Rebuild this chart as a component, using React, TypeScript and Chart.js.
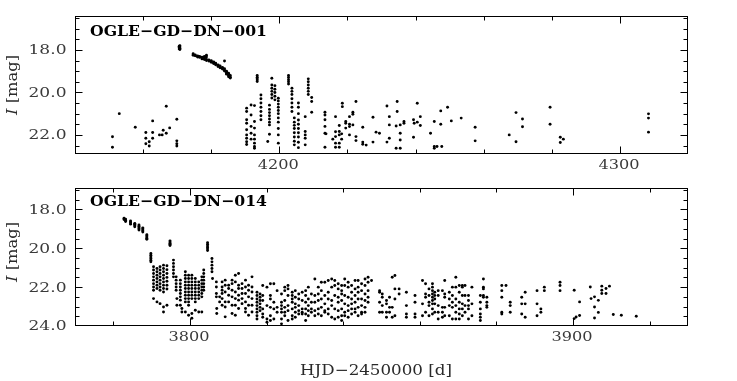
import { useEffect, useRef } from "react";
import { Chart, registerables } from "chart.js";

Chart.register(...registerables);

type Night = [number, number[]];

// ---------- DATA ----------
const panel1Name = "OGLE−GD−DN−001";
const panel2Name = "OGLE−GD−DN−014";
const yTitleItalic = "I";
const yTitleRest = " [mag]";
const xTitle = "HJD−2450000 [d]";

const p1XRange = [4140, 4320];
const p1YRange = [16.4, 22.9];
const p2XRange = [3770, 3930];
const p2YRange = [16.9, 24.0];

const p1XTicks = [4200, 4300];
const p1YTicks = [18.0, 20.0, 22.0];
const p2XTicks = [3800, 3900];
const p2YTicks = [18.0, 20.0, 22.0, 24.0];

const xMinorStep = 20;
const xMajorStep = 100;
const yMinorStep = 0.5;
const yMajorStep = 2;

// OGLE-GD-DN-001
const dn001Before: Night[] = [
  [4151.0, [22.09, 22.58]],
  [4153.0, [21.0]],
  [4157.7, [21.64]],
  [4160.8, [21.89, 22.16, 22.42]],
  [4161.8, [22.32, 22.52]],
  [4162.8, [21.34, 21.89, 22.16]],
  [4164.8, [22.0]],
  [4165.6, [22.0]],
  [4165.9, [21.78]],
  [4166.8, [21.92, 20.65]],
  [4167.8, [21.67]],
  [4169.9, [21.26, 22.28, 22.42, 22.52]],
];

const dn001Outburst: Night[] = [
  [4170.6, [17.82, 17.88, 17.95]],
  [4170.8, [17.8, 17.86, 17.92, 17.98]],
  [4174.7, [18.18, 18.22, 18.25]],
  [4175.3, [18.24, 18.27]],
  [4176.0, [18.3, 18.33, 18.28]],
  [4176.6, [18.35, 18.31]],
  [4177.3, [18.38, 18.42, 18.34]],
  [4178.0, [18.4, 18.36, 18.45, 18.3]],
  [4178.6, [18.33, 18.45, 18.5, 18.25]],
  [4179.3, [18.47, 18.52]],
  [4180.0, [18.5, 18.55, 18.58]],
  [4180.7, [18.6, 18.56, 18.64]],
  [4181.3, [18.66, 18.62, 18.7]],
  [4182.0, [18.7, 18.74, 18.78]],
  [4182.6, [18.75, 18.8, 18.84]],
  [4183.3, [18.82, 18.86, 18.9]],
  [4183.9, [18.88, 18.95, 18.99, 18.52]],
  [4184.5, [19.0, 19.05, 19.1, 19.14]],
  [4185.1, [19.1, 19.16, 19.2, 19.26]],
  [4185.6, [19.2, 19.28, 19.32]],
];

const dn001Active: Night[] = [
  [4190.4, [20.74, 20.9, 21.29, 21.45, 21.76, 22.0, 22.16, 22.32, 22.45]],
  [4191.7, [20.59, 21.06, 21.6, 21.92, 22.2]],
  [4192.7, [20.62, 21.37, 21.68, 22.0, 22.2, 22.39, 22.55, 22.63]],
  [4193.5, [19.2, 19.28, 19.35, 19.42, 19.49]],
  [4194.6, [20.12, 20.3, 20.5, 20.7, 20.9, 21.1, 21.29]],
  [4196.6, [22.31]],
  [4197.1, [20.6, 20.8, 20.95, 21.1, 21.25, 21.4, 21.53, 21.97]],
  [4197.8, [19.33, 19.65, 19.8, 19.95, 20.1, 20.26]],
  [4198.7, [19.68, 19.85, 20.0, 20.18, 20.35]],
  [4199.7, [20.27, 20.4, 20.55, 20.7, 20.85, 21.0, 21.2, 21.4, 21.7, 22.0, 22.39]],
  [4202.7, [19.2, 19.3, 19.4, 19.5, 19.6]],
  [4203.7, [19.8, 19.95, 20.1, 20.3, 20.5, 20.7, 20.9]],
  [4204.4, [21.2, 21.4, 21.55, 21.7, 21.9, 22.1, 22.3, 22.47]],
  [4205.6, [20.5, 20.7, 21.0, 21.3, 21.5, 21.7, 21.9, 22.1, 22.35, 22.6]],
  [4207.6, [21.14, 21.84, 22.0, 22.16, 22.47]],
  [4208.5, [19.36, 19.5, 19.65, 19.8, 19.95, 20.1]],
  [4209.5, [20.24, 20.43, 20.93]],
];

const dn001Tail: Night[] = [
  [4213.4, [20.93, 21.06, 21.29, 21.6, 21.92, 22.58]],
  [4213.7, [21.95]],
  [4215.7, [22.2]],
  [4216.5, [21.14, 21.85, 22.08, 22.39, 22.58]],
  [4217.6, [21.56, 21.84, 22.0, 22.39, 22.58]],
  [4218.3, [21.95, 22.2]],
  [4218.5, [20.51, 20.67]],
  [4219.5, [21.37, 21.45, 21.68]],
  [4220.6, [21.14, 21.5, 21.61, 22.0]],
  [4221.6, [20.93, 21.03, 21.53]],
  [4222.5, [20.43, 22.08, 22.27]],
  [4224.5, [21.64, 22.34, 22.44]],
  [4225.5, [22.48]],
  [4227.5, [21.17, 22.34]],
  [4228.4, [21.87]],
  [4229.4, [21.92]],
  [4231.6, [20.64, 22.34]],
  [4232.3, [21.14, 21.53, 22.16]],
  [4234.3, [21.58, 22.63]],
  [4234.6, [20.43, 20.9]],
  [4235.5, [21.53, 21.92, 22.24, 22.63]],
  [4236.6, [21.37, 21.45]],
  [4239.4, [21.29, 22.11]],
  [4239.6, [21.45]],
  [4240.5, [20.51, 21.4]],
  [4241.4, [21.14, 21.56]],
  [4244.4, [21.92]],
  [4245.5, [21.37, 22.55, 22.63]],
  [4246.3, [22.55]],
  [4247.4, [20.87, 21.5]],
  [4247.7, [22.55]],
  [4249.4, [20.7]],
  [4250.5, [21.34]],
  [4253.4, [21.21]],
  [4257.5, [21.64, 22.28]],
  [4267.5, [22.0]],
  [4269.5, [20.95, 22.32]],
  [4271.4, [21.25, 21.62]],
  [4279.5, [20.7, 21.5]],
  [4282.5, [22.11, 22.36]],
  [4283.4, [22.2]],
  [4308.4, [21.01, 21.21, 21.87]],
];

// OGLE-GD-DN-014
const dn014Outburst: Night[] = [
  [3782.8, [18.46, 18.52]],
  [3783.2, [18.5, 18.56, 18.62]],
  [3784.5, [18.6, 18.65, 18.7, 18.76]],
  [3785.6, [18.72, 18.77, 18.83, 18.9]],
  [3786.7, [18.8, 18.87, 18.94, 19.0, 19.06]],
  [3787.7, [18.95, 19.0, 19.06, 19.11, 19.16]],
  [3788.75, [19.3, 19.36, 19.42, 19.48, 19.54]],
  [3789.8, [20.27, 20.36, 20.45, 20.53, 20.62, 20.7]],
  [3794.8, [19.62, 19.68, 19.74, 19.8, 19.86]],
  [3804.6, [19.72, 19.8, 19.88, 19.96, 20.04, 20.12]],
  [3805.75, [20.53, 20.7, 20.87, 21.04, 21.21]],
];

const dn014Dip: Night[] = [
  [3790.5, [20.95, 21.12, 21.3, 21.47, 21.64, 21.82, 21.99, 22.16, 22.59]],
  [3791.4, [21.04, 21.21, 21.39, 21.56, 21.73, 21.9, 22.07, 22.76]],
  [3792.2, [20.95, 21.12, 21.3, 21.47, 21.64, 21.82, 21.99, 22.16, 22.85]],
  [3793.1, [20.87, 21.04, 21.21, 21.39, 21.56, 21.73, 21.9, 22.07, 22.25, 23.02, 23.28]],
  [3794.0, [20.9, 21.1, 21.3, 21.5, 21.7, 21.9, 22.1, 22.93]],
  [3795.7, [20.61, 20.78, 20.95, 21.12, 21.3, 21.47]],
  [3796.4, [21.47, 21.64, 21.82, 21.99, 22.16]],
  [3796.6, [22.59, 22.93]],
  [3797.5, [21.64, 21.82, 21.99, 22.16, 22.33, 22.5, 22.67, 22.93]],
  [3797.9, [23.1, 23.28]],
  [3798.8, [21.21, 21.39, 21.56, 21.73, 21.9, 22.07, 22.25, 22.42, 22.59, 22.76, 23.28]],
  [3799.65, [21.39, 21.56, 21.73, 21.9, 22.07, 22.25, 22.42, 22.59, 22.76, 22.93, 23.45]],
  [3800.5, [21.39, 21.56, 21.73, 21.9, 22.07, 22.25, 22.42, 22.59, 23.36, 23.6]],
  [3801.4, [21.56, 21.73, 21.9, 22.07, 22.25, 22.42, 22.59, 22.76, 23.19]],
  [3802.3, [21.73, 21.9, 22.07, 22.25, 22.42, 22.59, 23.28]],
  [3803.1, [21.47, 21.64, 21.82, 21.99, 22.16, 22.33, 22.5, 23.28]],
  [3803.6, [21.12, 21.3, 21.47, 21.64, 21.82, 21.99, 22.16]],
];

const dn014Cloud: Night[] = [
  [3805.9, [21.56]],
  [3806.9, [21.73, 21.99, 22.33, 22.5]],
  [3807.0, [23.1, 23.36]],
  [3807.75, [22.5, 22.76]],
  [3808.4, [21.73, 21.99, 22.16, 22.33, 22.59, 22.93]],
  [3809.2, [21.64, 21.9, 22.25, 22.76, 23.02, 23.53]],
  [3810.1, [21.9, 22.07, 22.42, 22.76]],
  [3811.0, [21.64, 21.82, 22.16, 22.5, 22.93, 23.36]],
  [3811.85, [21.39, 21.73, 22.25, 22.59, 22.93, 23.45]],
  [3812.7, [21.3, 21.9, 22.07, 22.42, 22.67, 23.1]],
  [3813.6, [21.82, 22.07, 22.33, 22.59, 22.85]],
  [3814.5, [21.64, 21.99, 22.33, 22.76, 23.1, 23.28]],
  [3815.3, [21.9, 22.16, 22.5, 22.93, 23.45]],
  [3816.2, [21.47, 21.99, 22.25, 22.59, 22.93, 23.28]],
  [3817.5, [22.26, 22.43, 22.61, 22.78, 22.95, 23.12, 23.29, 23.47, 23.64]],
  [3818.3, [22.35, 22.52, 22.69, 22.86, 23.04, 23.21]],
  [3819.0, [21.92, 22.43, 22.69, 23.12, 23.38, 23.55]],
  [3820.1, [22.0, 22.95, 23.64, 23.81]],
  [3821.0, [21.83, 22.43, 22.61, 23.04, 23.47, 23.72]],
  [3821.9, [21.83, 22.78, 23.12, 23.64]],
  [3822.75, [22.18, 23.04, 23.29]],
  [3823.9, [22.35, 22.78, 22.95, 23.12, 23.29, 23.64, 23.89]],
  [3824.75, [22.0, 22.18, 22.69, 23.04, 23.29, 23.47]],
  [3825.6, [21.92, 22.09, 22.43, 22.95, 23.21, 23.72]],
  [3826.7, [22.26, 22.43, 22.61, 22.78, 23.12, 23.47, 23.64]],
  [3827.5, [22.18, 22.52, 22.86, 23.04, 23.29, 23.55]],
  [3828.4, [22.35, 22.61, 22.95, 23.21, 23.38]],
  [3829.3, [22.26, 22.69, 23.12, 23.29, 23.38]],
  [3830.2, [22.18, 22.43, 22.78, 23.12, 23.38, 23.72]],
  [3830.9, [22.0, 22.61, 22.95, 23.21, 23.47]],
  [3831.7, [22.35, 22.78, 23.12, 23.29]],
  [3832.6, [21.58, 22.43, 22.78, 23.21, 23.47]],
  [3833.5, [22.0, 22.35, 22.69, 23.12, 23.38]],
  [3834.3, [21.75, 22.18, 22.61, 23.04, 23.47]],
  [3835.2, [21.75, 22.43, 22.86, 23.21, 23.29]],
  [3836.1, [21.66, 22.26, 22.61, 23.12, 23.38]],
  [3837.0, [21.58, 22.0, 22.69, 22.95, 23.55]],
  [3837.8, [21.66, 21.92, 22.43, 23.12, 23.64]],
  [3838.7, [21.83, 22.09, 22.52, 22.78, 23.21, 23.55]],
  [3839.6, [21.92, 22.18, 22.35, 22.69, 23.12, 23.47, 23.72]],
  [3840.4, [21.58, 21.92, 22.43, 22.86, 23.29, 23.47]],
  [3841.3, [21.75, 22.0, 22.52, 22.95, 23.21, 23.55]],
  [3842.2, [21.92, 22.26, 22.61, 22.86, 23.12, 23.38]],
  [3843.1, [21.66, 22.09, 22.43, 22.78, 23.12, 23.29]],
  [3843.9, [21.66, 22.0, 22.26, 22.61, 23.04, 23.47]],
  [3844.8, [21.83, 22.18, 22.61, 22.95, 23.29, 23.38]],
  [3845.7, [21.58, 21.92, 22.35, 22.69, 23.04, 23.29]],
  [3846.5, [21.49, 21.75, 22.18, 22.52, 22.78]],
  [3847.4, [21.66]],
  [3849.5, [22.18, 22.26, 22.78, 23.29]],
  [3850.2, [22.35, 22.52, 22.95, 23.29]],
  [3851.3, [22.69, 22.86, 23.29, 23.55]],
  [3852.1, [22.52, 23.04, 23.29]],
  [3852.8, [21.49, 23.04, 23.55]],
  [3853.5, [21.4, 22.09, 22.61, 23.47]],
  [3854.6, [22.09, 22.35]],
  [3856.5, [22.26, 22.95, 23.38, 23.55]],
  [3858.75, [22.43, 22.78, 23.38, 23.55]],
  [3860.7, [21.66, 22.86, 23.47]],
  [3861.5, [21.83, 22.35, 22.52, 23.29]],
  [3862.4, [22.09, 22.43, 22.78, 22.95, 23.47]],
];

const dn014Late: Night[] = [
  [3863.3, [21.83, 22.0, 22.18, 22.35, 22.52, 22.69, 22.86, 23.12, 23.38]],
  [3863.9, [22.26, 22.43, 22.61, 22.86, 23.29]],
  [3864.8, [22.18, 22.43, 22.95, 23.29, 23.64]],
  [3865.9, [22.18, 23.04, 23.29, 23.55]],
  [3866.5, [21.66, 22.35, 22.52, 23.04, 23.47]],
  [3867.7, [22.26, 22.61, 22.95, 23.47]],
  [3868.5, [22.0, 22.43, 22.78, 23.04, 23.64]],
  [3869.4, [21.49, 22.0, 22.61, 22.95, 23.29, 23.64]],
  [3870.3, [21.92, 22.26, 22.78, 23.12, 23.38, 23.64]],
  [3871.1, [21.92, 22.0, 22.43, 22.86, 23.12, 23.47]],
  [3871.8, [21.92, 22.43, 22.95, 23.29]],
  [3872.7, [22.43, 22.69, 22.95, 23.12, 23.64]],
  [3873.6, [22.0, 22.86, 23.47]],
  [3875.8, [22.43, 22.78, 23.12, 23.38, 23.55, 23.72]],
  [3876.6, [21.58, 22.0, 22.09, 22.43, 22.52]],
  [3877.5, [22.52, 22.78, 22.95, 23.04]],
  [3881.4, [21.92, 22.18, 22.52, 23.29, 23.38]],
  [3882.5, [21.92]],
  [3883.6, [22.78, 22.95, 23.29]],
  [3886.6, [22.52, 22.86, 23.38]],
  [3887.5, [22.26, 22.86, 23.55]],
  [3890.6, [22.18, 22.86, 23.47]],
  [3891.6, [23.12, 23.29]],
  [3892.5, [22.0, 22.18]],
  [3896.6, [21.75, 21.92, 22.18]],
  [3900.3, [22.16, 23.62]],
  [3900.8, [23.54]],
  [3901.7, [22.76, 23.46]],
  [3904.5, [21.99]],
  [3904.7, [22.59]],
  [3905.6, [22.5, 23.02, 23.59]],
  [3906.6, [22.68, 23.3]],
  [3907.5, [21.95, 22.16, 22.33]],
  [3908.6, [22.07, 22.33]],
  [3909.5, [21.95]],
  [3910.5, [23.41]],
  [3912.6, [23.45]],
  [3916.5, [23.5]],
];

// ---------- RENDERING ----------
const MAJOR_TICK = 7;
const MINOR_TICK = 4;
const SERIF = "'DejaVu Serif', 'Liberation Serif', serif";

function toPoints(...groups: Night[][]) {
  const pts: { x: number; y: number }[] = [];
  for (const g of groups) for (const [d, ms] of g) for (const m of ms) pts.push({ x: d, y: m });
  return pts;
}

function stretchText(
  ctx: CanvasRenderingContext2D,
  text: string,
  x: number,
  y: number,
  font: string,
  targetW: number,
  align: CanvasTextAlign,
  color: string
) {
  ctx.save();
  ctx.font = font;
  const w = ctx.measureText(text).width || 1;
  ctx.translate(x, y);
  ctx.scale(targetW / w, 1);
  ctx.textAlign = align;
  ctx.textBaseline = "alphabetic";
  ctx.fillStyle = color;
  ctx.fillText(text, 0, 0);
  ctx.restore();
}

type PanelCfg = {
  name: string;
  nameBaseline: number;
  xTicks: number[];
  yTicks: number[];
  yTitleCenter: number;
  showXTitle: boolean;
  xTitleBaseline: number;
};

function framePlugin(cfg: PanelCfg) {
  return {
    id: "frameTicks",
    afterDraw(chart: any) {
      const { ctx, chartArea: a, scales } = chart;
      const xs = scales.x;
      const ys = scales.y;
      ctx.save();
      ctx.strokeStyle = "#000";
      ctx.lineWidth = 1;
      const L = Math.round(a.left) + 0.5;
      const R = Math.round(a.right) - 0.5;
      const T = Math.round(a.top) + 0.5;
      const B = Math.round(a.bottom) - 0.5;
      ctx.strokeRect(L, T, R - L, B - T);
      ctx.beginPath();
      const kx0 = Math.ceil(xs.min / xMinorStep);
      const kx1 = Math.floor(xs.max / xMinorStep);
      for (let k = kx0; k <= kx1; k++) {
        const v = k * xMinorStep;
        if (v <= xs.min || v >= xs.max) continue;
        const px = Math.round(xs.getPixelForValue(v)) + 0.5;
        const len = v % xMajorStep === 0 ? MAJOR_TICK : MINOR_TICK;
        ctx.moveTo(px, B);
        ctx.lineTo(px, B - len);
        ctx.moveTo(px, T);
        ctx.lineTo(px, T + len);
      }
      const ky0 = Math.ceil(ys.min / yMinorStep - 1e-6);
      const ky1 = Math.floor(ys.max / yMinorStep + 1e-6);
      const per = Math.round(yMajorStep / yMinorStep);
      for (let k = ky0; k <= ky1; k++) {
        const v = k * yMinorStep;
        if (v <= ys.min + 1e-6 || v >= ys.max - 1e-6) continue;
        const py = Math.round(ys.getPixelForValue(v)) + 0.5;
        const len = k % per === 0 ? MAJOR_TICK : MINOR_TICK;
        ctx.moveTo(L, py);
        ctx.lineTo(L + len, py);
        ctx.moveTo(R, py);
        ctx.lineTo(R - len, py);
      }
      ctx.stroke();

      const tickFont = `12px ${SERIF}`;
      for (const v of cfg.yTicks) {
        const py = ys.getPixelForValue(v);
        stretchText(ctx, v.toFixed(1), a.left - 8.5, py + 4.4, tickFont, 38, "right", "#3a3a3a");
      }
      for (const v of cfg.xTicks) {
        const px = xs.getPixelForValue(v);
        stretchText(ctx, String(v), px - 1, a.bottom + 14.5, tickFont, 41, "center", "#3a3a3a");
      }

      stretchText(ctx, cfg.name, 90, cfg.nameBaseline, `bold 15px ${SERIF}`, 177, "left", "#000");

      // y title with italic I
      ctx.save();
      ctx.translate(16.5, cfg.yTitleCenter);
      ctx.rotate(-Math.PI / 2);
      ctx.fillStyle = "#2a2a2a";
      ctx.textBaseline = "alphabetic";
      ctx.textAlign = "left";
      ctx.font = `italic 15px ${SERIF}`;
      const w1 = ctx.measureText(yTitleItalic).width;
      ctx.font = `15px ${SERIF}`;
      const w2 = ctx.measureText(yTitleRest).width;
      const total = w1 + w2;
      ctx.scale(60 / total, 1);
      ctx.font = `italic 15px ${SERIF}`;
      ctx.fillText(yTitleItalic, -total / 2, 0);
      ctx.font = `15px ${SERIF}`;
      ctx.fillText(yTitleRest, -total / 2 + w1, 0);
      ctx.restore();

      if (cfg.showXTitle) {
        stretchText(ctx, xTitle, 376, cfg.xTitleBaseline, `15px ${SERIF}`, 152, "center", "#2a2a2a");
      }
      ctx.restore();
    },
  };
}

function makeConfig(
  pts: { x: number; y: number }[],
  xr: number[],
  yr: number[],
  padding: { left: number; right: number; top: number; bottom: number },
  cfg: PanelCfg
): any {
  return {
    type: "scatter",
    data: {
      datasets: [
        {
          data: pts,
          pointRadius: 1.45,
          pointBorderWidth: 0,
          pointBackgroundColor: "#000",
          pointHoverRadius: 1.45,
          showLine: false,
        },
      ],
    },
    options: {
      animation: false,
      responsive: false,
      devicePixelRatio: 1,
      events: [],
      layout: { padding },
      plugins: { legend: { display: false }, tooltip: { enabled: false } },
      scales: {
        x: { type: "linear", min: xr[0], max: xr[1], display: false },
        y: { type: "linear", min: yr[0], max: yr[1], reverse: true, display: false },
      },
    },
    plugins: [framePlugin(cfg)],
  };
}

export default function App() {
  const ref1 = useRef<HTMLCanvasElement>(null);
  const ref2 = useRef<HTMLCanvasElement>(null);

  useEffect(() => {
    const c1 = new Chart(
      ref1.current as HTMLCanvasElement,
      makeConfig(
        toPoints(dn001Before, dn001Outburst, dn001Active, dn001Tail),
        p1XRange,
        p1YRange,
        { left: 75, right: 49, top: 16, bottom: 26 },
        {
          name: panel1Name,
          nameBaseline: 36,
          xTicks: p1XTicks,
          yTicks: p1YTicks,
          yTitleCenter: 85,
          showXTitle: false,
          xTitleBaseline: 0,
        }
      )
    );
    const c2 = new Chart(
      ref2.current as HTMLCanvasElement,
      makeConfig(
        toPoints(dn014Outburst, dn014Dip, dn014Cloud, dn014Late),
        p2XRange,
        p2YRange,
        { left: 75, right: 49, top: 8, bottom: 55 },
        {
          name: panel2Name,
          nameBaseline: 25.5,
          xTicks: p2XTicks,
          yTicks: p2YTicks,
          yTitleCenter: 72,
          showXTitle: true,
          xTitleBaseline: 195,
        }
      )
    );
    return () => {
      c1.destroy();
      c2.destroy();
    };
  }, []);

  return (
    <div style={{ position: "fixed", left: 0, top: 0, width: 737, height: 381, background: "#fff" }}>
      <canvas
        ref={ref1}
        width={737}
        height={180}
        style={{ position: "absolute", left: 0, top: 0, width: 737, height: 180 }}
      />
      <canvas
        ref={ref2}
        width={737}
        height={201}
        style={{ position: "absolute", left: 0, top: 180, width: 737, height: 201 }}
      />
    </div>
  );
}
